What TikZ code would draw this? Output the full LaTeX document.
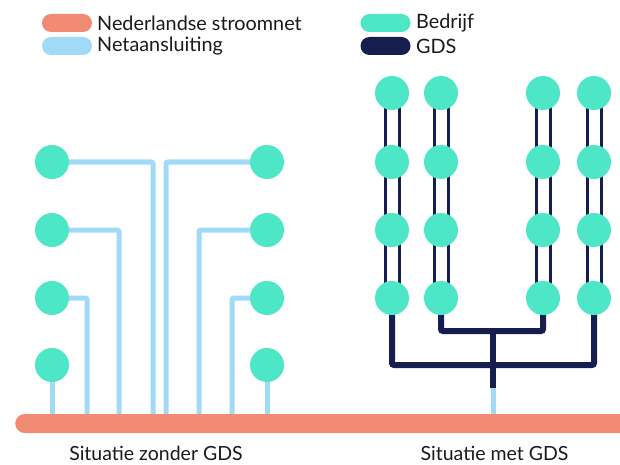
\documentclass[tikz,border=0pt]{standalone}
\usepackage{fontspec}
\setmainfont{Lato}
\usetikzlibrary{backgrounds}
\definecolor{netorange}{HTML}{F28B74}
\definecolor{feedblue}{HTML}{A0DAF7}
\definecolor{firmgreen}{HTML}{4DE6C6}
\definecolor{gdsnavy}{HTML}{151E4F}
\definecolor{txt}{HTML}{1A1A1A}
\tikzset{
  firm/.style={circle, fill=firmgreen, minimum size=34pt, inner sep=0pt},
  feed/.style={draw=feedblue, line width=5pt, rounded corners=2pt},
  gdspair/.style={draw=gdsnavy, line width=3pt},
  gdstrunk/.style={draw=gdsnavy, line width=6pt, rounded corners=2pt},
  pill/.style={minimum width=50pt, minimum height=18pt, rounded corners=9pt, inner sep=0pt},
  legtext/.style={anchor=west, inner sep=0pt, font=\fontsize{19.8pt}{22pt}\selectfont, text=txt},
  caption/.style={anchor=base, inner sep=0pt, font=\fontsize{19.5pt}{22pt}\selectfont, text=txt}
}
\begin{document}
\begin{tikzpicture}[x=1pt, y=-1pt]
\useasboundingbox (0,0) rectangle (620,465);
\clip (0,0) rectangle (620,465);
% legend
\node[pill, fill=netorange] (lo) at (67,23) {};
\node[legtext] (lot) at (97,23) {Nederlandse stroomnet};
\node[pill, fill=feedblue] (lb) at (67,46) {};
\node[legtext] (lbt) at (97,46) {Netaansluiting};
\node[pill, fill=firmgreen] (lg) at (385.5,23) {};
\node[legtext] (lgt) at (416,23) {Bedrijf};
\node[pill, fill=gdsnavy] (ln) at (385.5,46) {};
\node[legtext] (lnt) at (416,46) {GDS};
% grid bar
\node[fill=netorange, minimum width=640pt, minimum height=19pt, rounded corners=9.5pt, inner sep=0pt, anchor=west] (net) at (15,423.5) {};
% left situation
\foreach \i/\y in {1/162,2/230,3/298,4/365}{
  \node[firm] (L\i) at (52,\y) {};
  \node[firm] (R\i) at (267,\y) {};
}
\begin{scope}[on background layer]
\draw[feed] (L1.center) -| (153,0 |- net.north);
\draw[feed] (L2.center) -| (119,0 |- net.north);
\draw[feed] (L3.center) -| (87,0 |- net.north);
\draw[feed] (L4.center) -- (L4.center |- net.north);
\draw[feed] (R1.center) -| (166,0 |- net.north);
\draw[feed] (R2.center) -| (199,0 |- net.north);
\draw[feed] (R3.center) -| (232,0 |- net.north);
\draw[feed] (R4.center) -- (R4.center |- net.north);
\end{scope}
% right situation
\foreach \c/\x in {1/392,2/441,3/543,4/594}{
  \foreach \r/\y in {1/93,2/162,3/230,4/298}{
    \node[firm] (g\c\r) at (\x,\y) {};
  }
}
\coordinate (hub) at (493,388);
\begin{scope}[on background layer]
\foreach \c in {1,2,3,4}{
  \draw[gdspair] ([xshift=-7pt]g\c1.center) -- ([xshift=-7pt]g\c4.center);
  \draw[gdspair] ([xshift=7pt]g\c1.center) -- ([xshift=7pt]g\c4.center);
}
\draw[gdstrunk] (g14.center) |- (hub |- 0,365) -| (g44.center);
\draw[gdstrunk] (g24.center) |- (hub |- 0,331) -| (g34.center);
\draw[gdstrunk, rounded corners=0pt] (hub |- 0,331) -- (hub);
\draw[feed, rounded corners=0pt] (hub) -- (hub |- net.north);
\end{scope}
% captions
\node[caption] (c1) at (156,460.5) {Situatie zonder GDS};
\node[caption] (c2) at (494.5,460.5) {Situatie met GDS};
\end{tikzpicture}
\end{document}
